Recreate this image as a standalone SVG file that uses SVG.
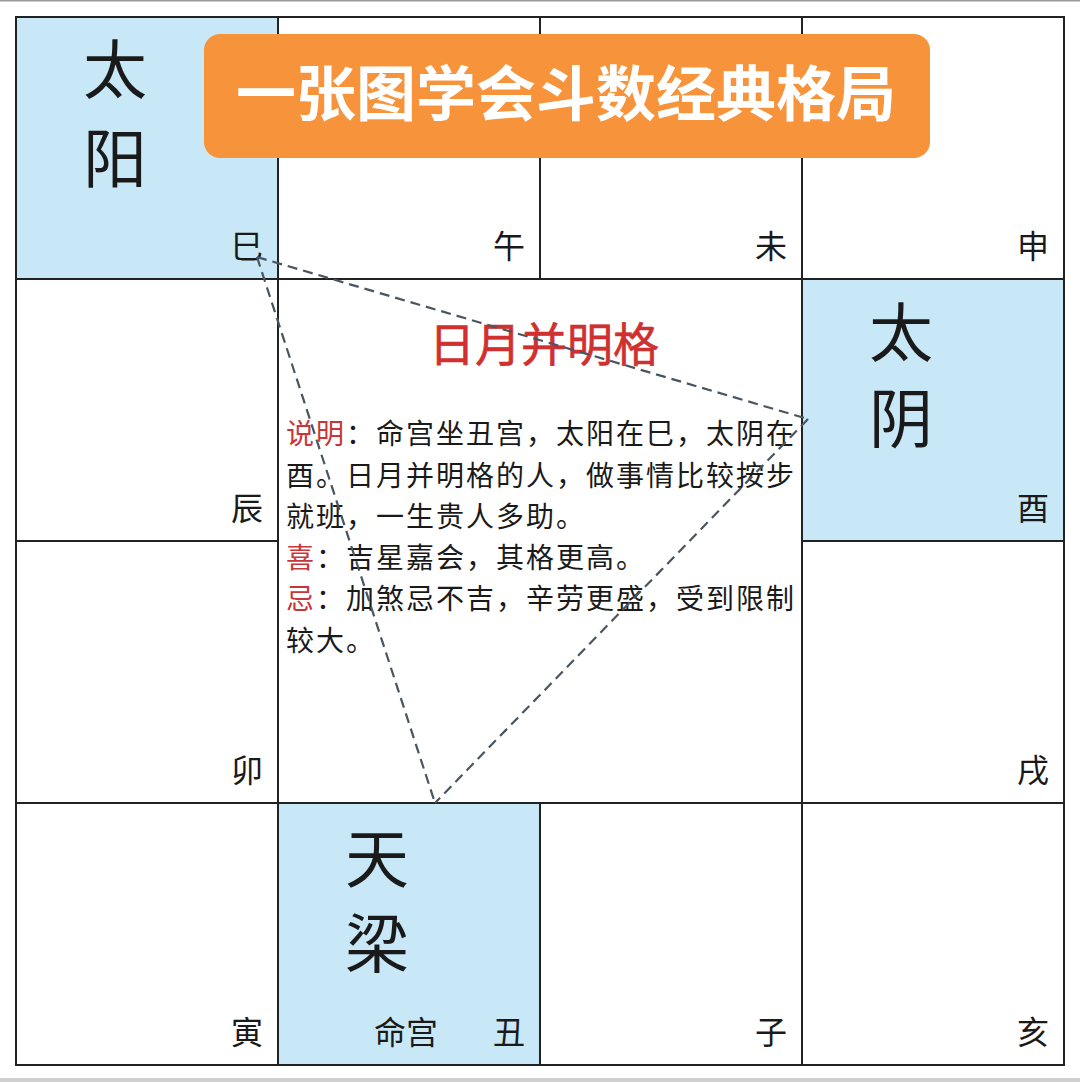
<svg xmlns="http://www.w3.org/2000/svg" width="1080" height="1082" viewBox="0 0 1080 1082">
<style>
.cell{fill:#ffffff;stroke:#222;stroke-width:2}
.hl{fill:#C8E8F8;stroke:#222;stroke-width:2}
.t{font-family:"Noto Sans CJK SC","Noto Sans",sans-serif;fill:#1a1a1a}
.br{font-size:32px;text-anchor:end}
.star{font-size:64px;text-anchor:middle}
.body{font-size:28px;letter-spacing:2px}
.red{fill:#C8363A}
.dash{fill:none;stroke:#4A5560;stroke-width:2.2;stroke-dasharray:10 6}
</style>
<rect x="0" y="0" width="1080" height="1082" fill="#ffffff"/>
<rect x="0" y="0" width="1080" height="1.5" fill="#9a9a9a"/>
<rect x="0" y="1078" width="1080" height="4" fill="#d0d0d0"/>

<g id="cell-si"><rect class="hl" x="16" y="17" width="262" height="262"/>
<text class="t star" x="115" y="93">太</text><text class="t star" x="115" y="182">阳</text>
<text class="t br" x="263" y="258">巳</text></g>
<g id="cell-wu"><rect class="cell" x="278" y="17" width="262" height="262"/><text class="t br" x="525" y="258">午</text></g>
<g id="cell-wei"><rect class="cell" x="540" y="17" width="262" height="262"/><text class="t br" x="787" y="258">未</text></g>
<g id="cell-shen"><rect class="cell" x="802" y="17" width="262" height="262"/><text class="t br" x="1049" y="258">申</text></g>

<g id="cell-chen"><rect class="cell" x="16" y="279" width="262" height="262"/><text class="t br" x="263" y="520">辰</text></g>
<g id="cell-you"><rect class="hl" x="802" y="279" width="262" height="262"/>
<text class="t star" x="901" y="356">太</text><text class="t star" x="901" y="442">阴</text>
<text class="t br" x="1049" y="520">酉</text></g>
<g id="cell-mao"><rect class="cell" x="16" y="541" width="262" height="262"/><text class="t br" x="263" y="782">卯</text></g>
<g id="cell-xu"><rect class="cell" x="802" y="541" width="262" height="262"/><text class="t br" x="1049" y="782">戌</text></g>

<g id="cell-yin"><rect class="cell" x="16" y="803" width="262" height="262"/><text class="t br" x="263" y="1044">寅</text></g>
<g id="cell-chou"><rect class="hl" x="278" y="803" width="262" height="262"/>
<text class="t star" x="377" y="882">天</text><text class="t star" x="377" y="967">梁</text>
<text class="t" x="374" y="1044" font-size="32">命宫</text>
<text class="t br" x="525" y="1044">丑</text></g>
<g id="cell-zi"><rect class="cell" x="540" y="803" width="262" height="262"/><text class="t br" x="787" y="1044">子</text></g>
<g id="cell-hai"><rect class="cell" x="802" y="803" width="262" height="262"/><text class="t br" x="1049" y="1044">亥</text></g>

<g id="center"><rect class="cell" x="278" y="279" width="524" height="524"/>
<text class="t" x="544" y="361" font-size="46" text-anchor="middle" style="fill:#D0302F;stroke:#D0302F;stroke-width:0.6">日月并明格</text>
<text class="t body" x="286" y="444"><tspan class="red">说明</tspan>：命宫坐丑宫，太阳在巳，太阴在</text>
<text class="t body" x="286" y="486">酉。日月并明格的人，做事情比较按步</text>
<text class="t body" x="286" y="527">就班，一生贵人多助。</text>
<text class="t body" x="286" y="568"><tspan class="red">喜</tspan>：吉星嘉会，其格更高。</text>
<text class="t body" x="286" y="609"><tspan class="red">忌</tspan>：加煞忌不吉，辛劳更盛，受到限制</text>
<text class="t body" x="286" y="651">较大。</text>
</g>

<g id="title">
<rect x="204" y="34" width="726" height="124" rx="16" fill="#F7933B"/>
<text x="566" y="116" font-family="'Noto Sans CJK SC',sans-serif" font-size="60" font-weight="bold" fill="#ffffff" text-anchor="middle">一张图学会斗数经典格局</text>
</g>

<g id="connectors">
<line class="dash" x1="257" y1="257" x2="808" y2="419"/>
<line class="dash" x1="257" y1="257" x2="435" y2="803"/>
<line class="dash" x1="808" y1="419" x2="435" y2="803"/>
</g>
</svg>
